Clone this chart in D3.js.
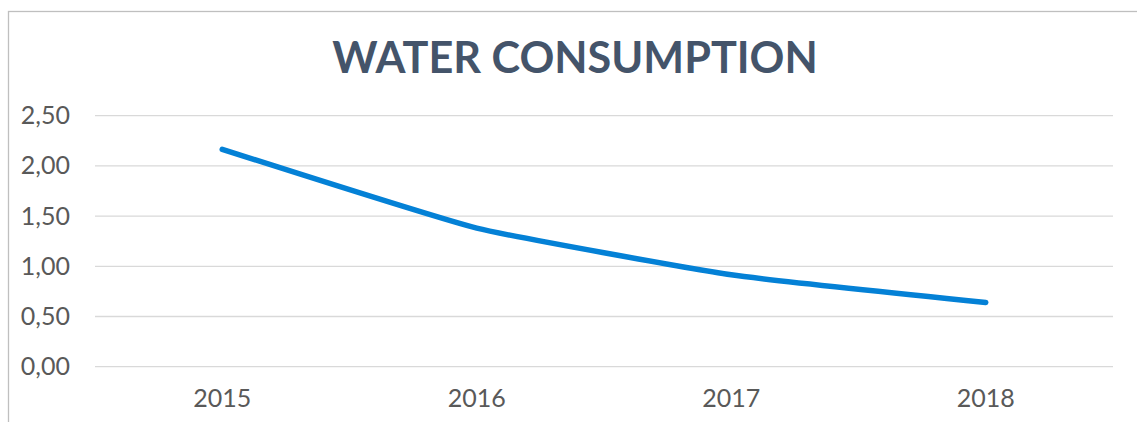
<!DOCTYPE html>
<html>
<head>
<meta charset="utf-8">
<script src="https://cdn.jsdelivr.net/npm/d3@7"></script>
<style>
  body { margin: 0; background: #fff; }
  text { font-family: Lato, "Open Sans", sans-serif; }
</style>
</head>
<body>
<script>
// chart values
const years = ['2015', '2016', '2017', '2018'];
const consumption = [2.165, 1.38, 0.915, 0.64];
const yTicks = [0, 0.5, 1, 1.5, 2, 2.5];

const W = 1137;
const H = 422;

const svg = d3.select('body')
  .append('svg')
    .attr('width', W)
    .attr('height', H);

// outer chart border (cropped at right/bottom)
svg.append('rect')
  .attr('x', 8.5)
  .attr('y', 11.5)
  .attr('width', W + 10)
  .attr('height', H + 10)
  .attr('fill', 'none')
  .attr('stroke', '#bfbfbf')
  .attr('stroke-width', 1.3);

svg.append('text')
  .attr('x', 575)
  .attr('y', 73)
  .attr('text-anchor', 'middle')
  .attr('font-size', 43.2)
  .attr('font-weight', 700)
  .attr('fill', '#44546a')
  .text('WATER CONSUMPTION');

const x = d3.scaleBand()
  .domain(years)
  .range([95, 1113]);

const y = d3.scaleLinear()
  .domain([0, 2.5])
  .range([366.7, 115.7]);

const fmt = d => d3.format('.2f')(d).replace('.', ',');

// gridlines
svg.append('g')
  .selectAll('line')
  .data(yTicks)
  .join('line')
    .attr('x1', x.range()[0])
    .attr('x2', x.range()[1])
    .attr('y1', d => y(d))
    .attr('y2', d => y(d))
    .attr('stroke', '#d9d9d9')
    .attr('stroke-width', 1.3);

const yAxis = d3.axisLeft(y)
  .tickValues(yTicks)
  .tickFormat(fmt)
  .tickSize(0)
  .tickPadding(25);

svg.append('g')
  .attr('transform', `translate(${x.range()[0]},0)`)
  .call(yAxis)
  .call(g => g.select('.domain').remove())
  .call(g => g.selectAll('text')
    .attr('font-size', 25)
    .attr('fill', '#595959')
    .attr('font-family', 'Lato, sans-serif'));

const xAxis = d3.axisBottom(x)
  .tickSize(0)
  .tickPadding(22.5);

svg.append('g')
  .attr('transform', `translate(0,${y(0)})`)
  .call(xAxis)
  .call(g => g.select('.domain').remove())
  .call(g => g.selectAll('text')
    .attr('font-size', 25)
    .attr('fill', '#595959')
    .attr('font-family', 'Lato, sans-serif'));

const line = d3.line()
  .x((d, i) => x(years[i]) + x.bandwidth() / 2)
  .y(d => y(d))
  .curve(d3.curveCardinal.tension(0.6));

svg.append('path')
  .datum(consumption)
  .attr('d', line)
  .attr('fill', 'none')
  .attr('stroke', '#0481d6')
  .attr('stroke-width', 5.5)
  .attr('stroke-linecap', 'round')
  .attr('stroke-linejoin', 'round');
</script>
</body>
</html>
